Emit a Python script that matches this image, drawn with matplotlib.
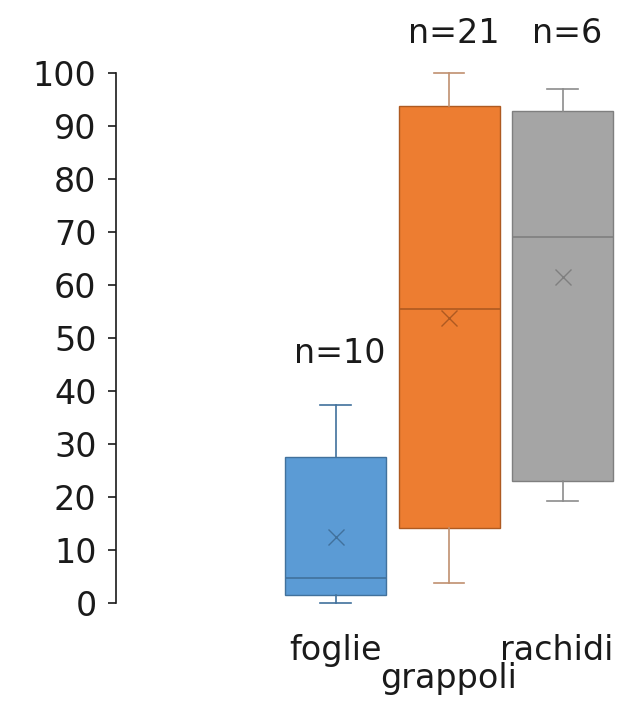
import matplotlib
matplotlib.use("Agg")
import matplotlib.pyplot as plt

# ---- data ----
categories = ["foglie", "grappoli", "rachidi"]
n_counts = [10, 21, 6]
whislo = [0.0, 3.8, 19.2]
q1 = [1.5, 14.2, 23.0]
med = [4.7, 55.5, 69.0]
q3 = [27.5, 93.8, 92.8]
whishi = [37.4, 100.0, 97.0]
means = [12.5, 53.8, 61.5]
y_ticks = [0, 10, 20, 30, 40, 50, 60, 70, 80, 90, 100]

# ---- style ----
fills = ["#5B9BD5", "#ED7D31", "#A5A5A5"]
edges = ["#41719C", "#AE5A21", "#7F7F7F"]
whisk = ["#41719C", "#C09070", "#8C8C8C"]
n_label_y = [47, 107.5, 107.5]
label_drop_px = [-57, -85, -57]
label_dx_px = [0, 0, -6]
FS = 24

plt.rcParams['font.family'] = ['DejaVu Sans']

W, H = 631, 701
fig = plt.figure(figsize=(W / 100, H / 100), dpi=100)
ax = fig.add_axes([116 / W, (701 - 603) / H, 1 - 116 / W, (603 - 73) / H])

positions = [1, 2, 3]
stats = []
for i, c in enumerate(categories):
    stats.append(dict(label=c, whislo=whislo[i], q1=q1[i], med=med[i],
                      q3=q3[i], whishi=whishi[i], mean=means[i], fliers=[]))

for i, s in enumerate(stats):
    ax.bxp([s], positions=[positions[i]], widths=0.89, capwidths=0.27,
           patch_artist=True, showmeans=True, showfliers=False,
           boxprops=dict(facecolor=fills[i], edgecolor=edges[i], linewidth=1.0),
           medianprops=dict(color=edges[i], linewidth=1.2),
           whiskerprops=dict(color=whisk[i], linewidth=1.2),
           capprops=dict(color=whisk[i], linewidth=1.2),
           meanprops=dict(marker='x', markeredgecolor=edges[i], markersize=11,
                          markeredgewidth=1.0),
           manage_ticks=False)

for art in ax.get_children():
    try:
        art.set_clip_on(False)
    except Exception:
        pass

ax.set_xlim(-0.934, 3.603)
ax.set_ylim(0, 100)
ax.set_yticks(y_ticks)
ax.set_yticklabels([str(t) for t in y_ticks], fontsize=FS, color="#1a1a1a")
ax.tick_params(axis='y', length=6, width=1.2, pad=8, color="#1a1a1a")
ax.set_xticks([])
for s in ['top', 'right', 'bottom']:
    ax.spines[s].set_visible(False)
ax.spines['left'].set_linewidth(1.2)
ax.spines['left'].set_color("#1a1a1a")

for i, c in enumerate(categories):
    ax.annotate(c, xy=(positions[i], 0), xycoords=('data', 'axes fraction'),
                xytext=(label_dx_px[i], label_drop_px[i]), textcoords='offset pixels',
                ha='center', va='baseline', fontsize=FS, color="#1a1a1a",
                annotation_clip=False)
    ax.text(positions[i] + 0.04, n_label_y[i], f"n={n_counts[i]}", ha='center',
            va='center', fontsize=FS, color="#1a1a1a", clip_on=False)

fig.savefig("out.png", dpi=100, facecolor="white")
